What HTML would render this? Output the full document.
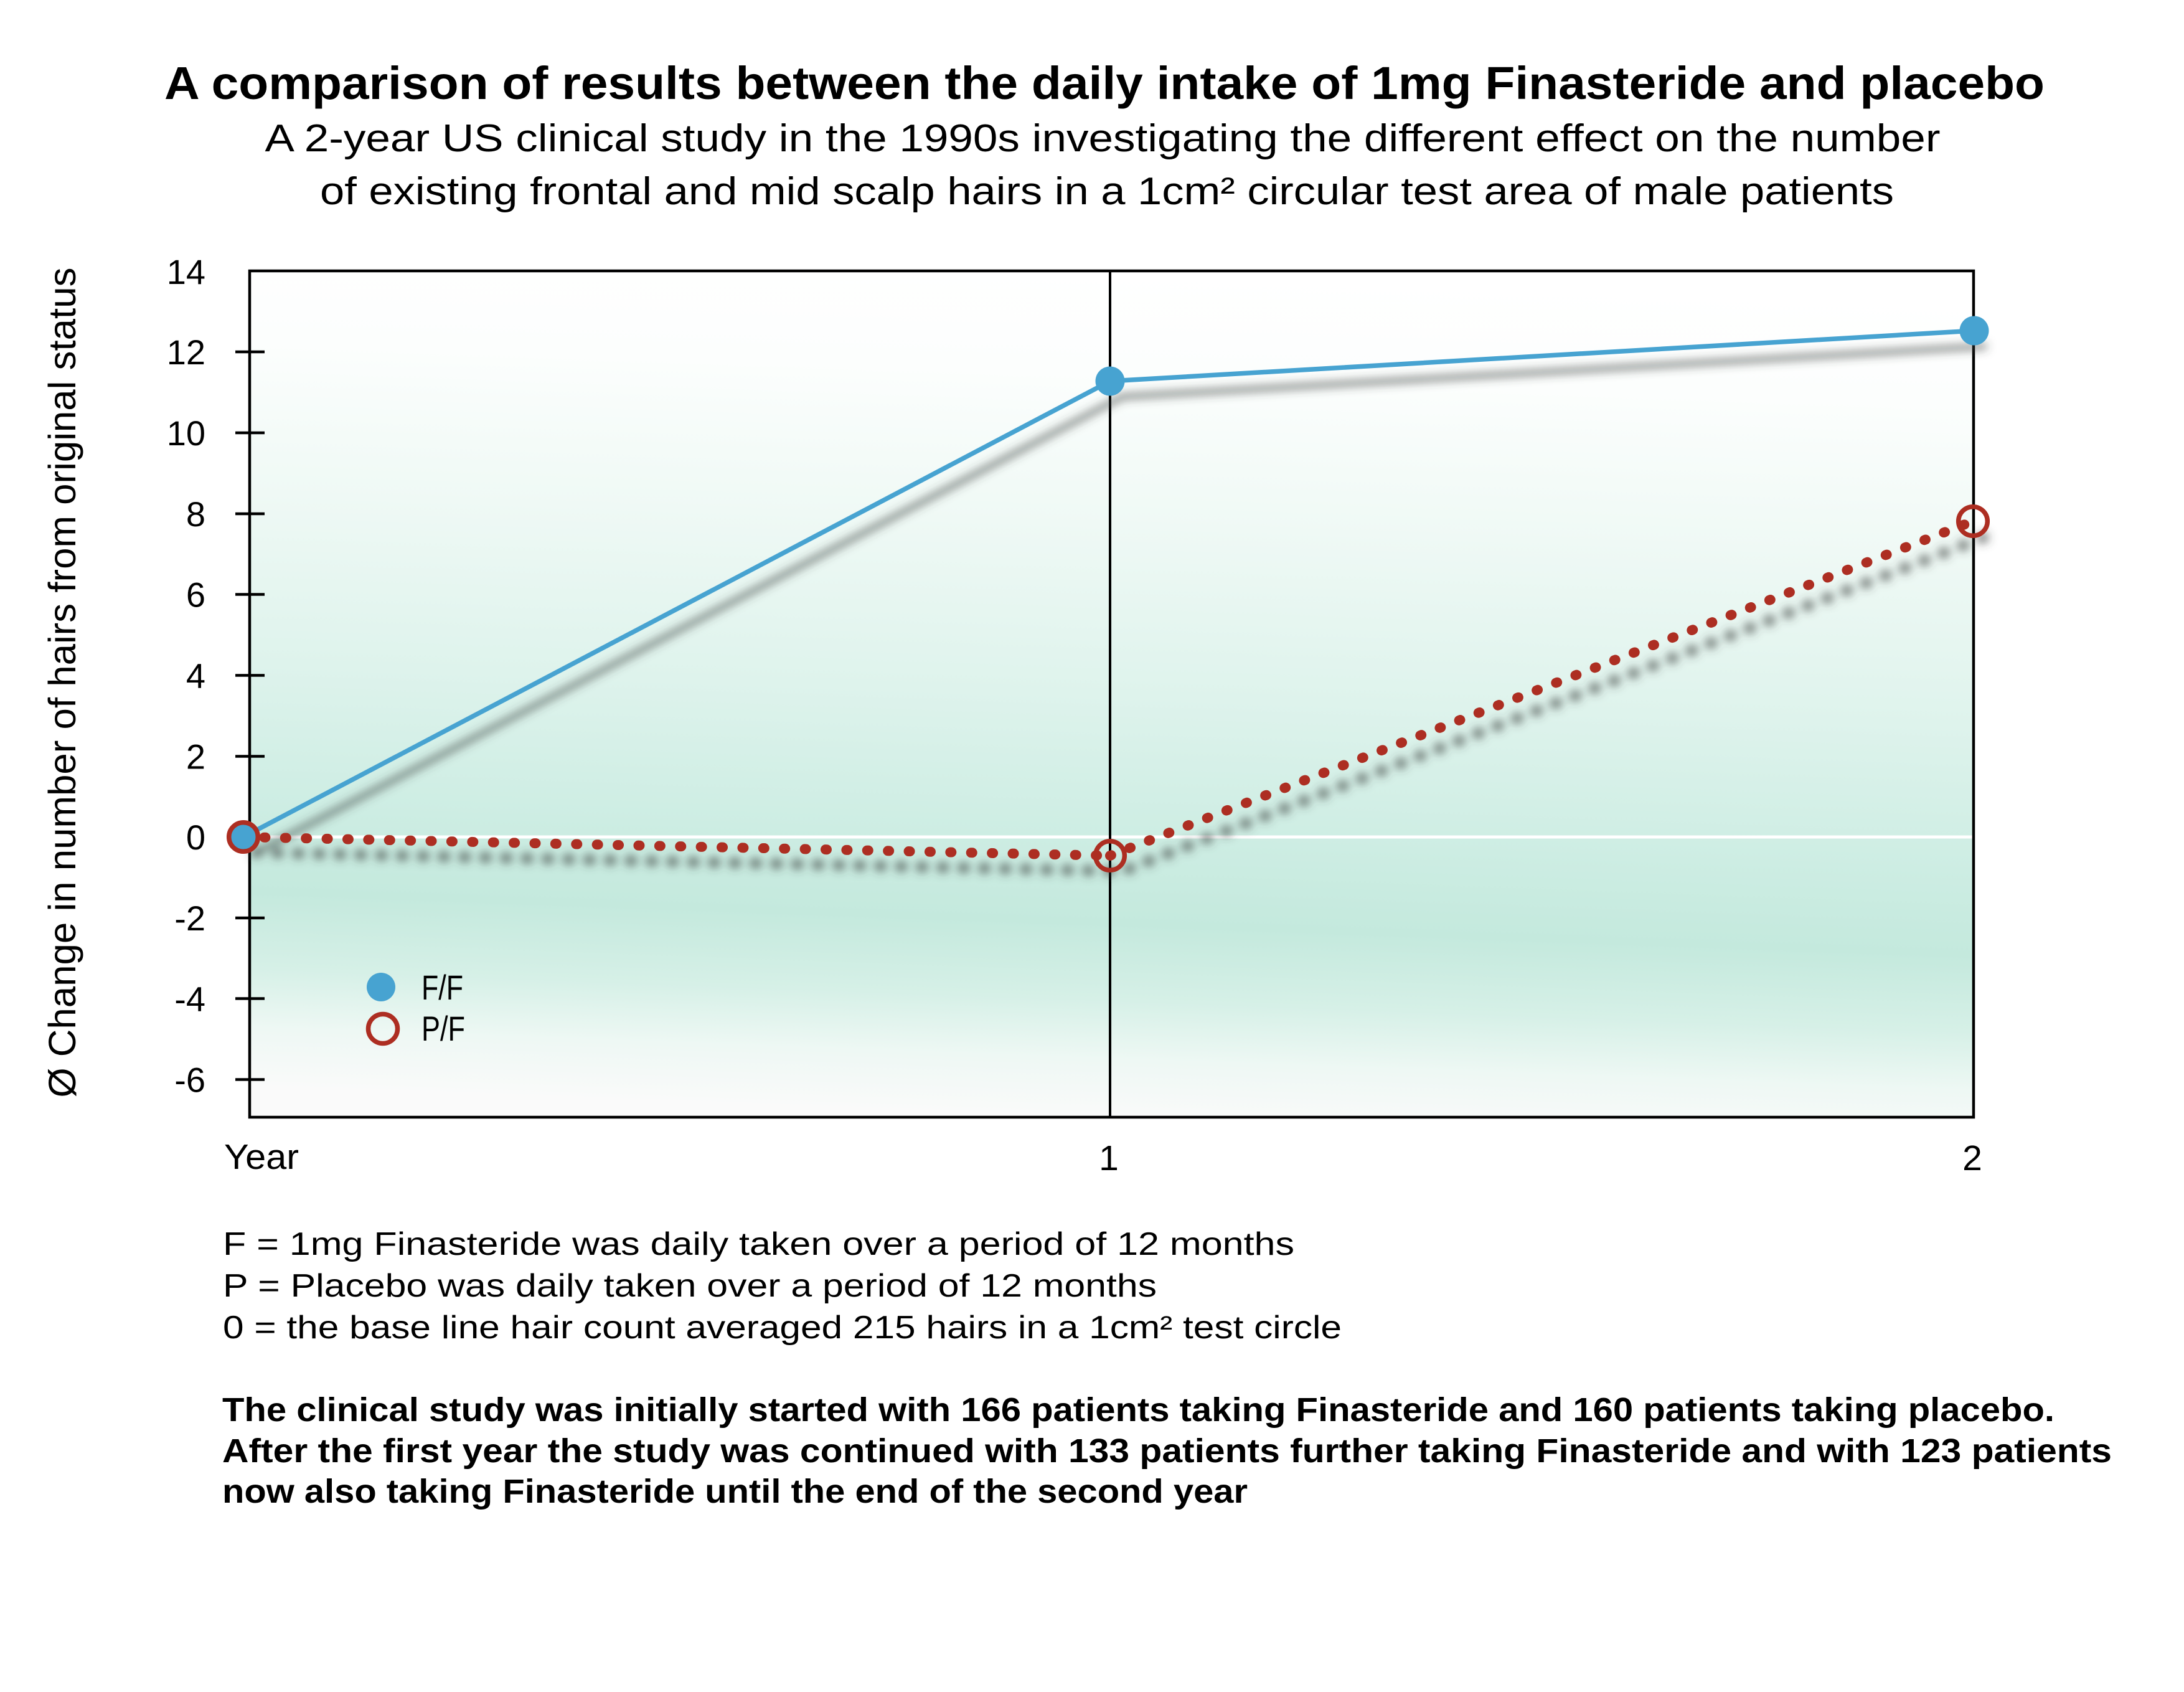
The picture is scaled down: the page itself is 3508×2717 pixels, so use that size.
<!DOCTYPE html>
<html>
<head>
<meta charset="utf-8">
<style>
  html, body { margin: 0; padding: 0; background: #ffffff; }
  svg { display: block; }
  text { font-family: "Liberation Sans", "DejaVu Sans", sans-serif; fill: #000; }
</style>
</head>
<body>
<svg width="3508" height="2717" viewBox="0 0 3508 2717" xmlns="http://www.w3.org/2000/svg">
  <defs>
    <linearGradient id="bg" gradientUnits="userSpaceOnUse" x1="1810" y1="435" x2="1760" y2="1796">
      <stop offset="0" stop-color="#ffffff"/>
      <stop offset="0.12" stop-color="#fcfefd"/>
      <stop offset="0.30" stop-color="#eff9f5"/>
      <stop offset="0.50" stop-color="#def3ec"/>
      <stop offset="0.67" stop-color="#cdede3"/>
      <stop offset="0.77" stop-color="#c4e9dd"/>
      <stop offset="0.86" stop-color="#d6f0e7"/>
      <stop offset="0.93" stop-color="#eef8f4"/>
      <stop offset="1" stop-color="#fafafa"/>
    </linearGradient>
    <filter id="sh" x="-10%" y="-20%" width="125%" height="160%">
      <feGaussianBlur in="SourceAlpha" stdDeviation="7.5" result="b"/>
      <feOffset in="b" dx="20" dy="25" result="o"/>
      <feFlood flood-color="#3a3f3d" flood-opacity="0.75"/>
      <feComposite in2="o" operator="in" result="s"/>
      <feMerge>
        <feMergeNode in="s"/>
      </feMerge>
    </filter>
  </defs>

  <!-- Title -->
  <text x="1774" y="159" text-anchor="middle" font-size="74" font-weight="bold" textLength="3020" lengthAdjust="spacingAndGlyphs">A comparison of results between the daily intake of 1mg Finasteride and placebo</text>
  <text x="1771" y="243" text-anchor="middle" font-size="62" textLength="2691" lengthAdjust="spacingAndGlyphs">A 2-year US clinical study in the 1990s investigating the different effect on the number</text>
  <text x="1778" y="328" text-anchor="middle" font-size="62" textLength="2528" lengthAdjust="spacingAndGlyphs">of existing frontal and mid scalp hairs in a 1cm² circular test area of male patients</text>

  <!-- Plot background -->
  <rect x="401" y="435" width="2769" height="1360" fill="url(#bg)"/>
  <!-- zero line -->
  <line x1="401" y1="1344" x2="3170" y2="1344" stroke="#ffffff" stroke-width="5"/>

  <!-- Axes -->
  <rect x="401" y="435" width="2769" height="1359" fill="none" stroke="#000" stroke-width="4.5"/>
  <line x1="1783" y1="435" x2="1783" y2="1794" stroke="#000" stroke-width="4"/>

  <!-- Y ticks -->
  <g stroke="#000" stroke-width="4.5">
    <line x1="378" y1="565" x2="425" y2="565"/>
    <line x1="378" y1="695" x2="425" y2="695"/>
    <line x1="378" y1="825" x2="425" y2="825"/>
    <line x1="378" y1="954.5" x2="425" y2="954.5"/>
    <line x1="378" y1="1084.5" x2="425" y2="1084.5"/>
    <line x1="378" y1="1214.5" x2="425" y2="1214.5"/>
    <line x1="378" y1="1344" x2="425" y2="1344"/>
    <line x1="378" y1="1474" x2="425" y2="1474"/>
    <line x1="378" y1="1603.5" x2="425" y2="1603.5"/>
    <line x1="378" y1="1733.5" x2="425" y2="1733.5"/>
  </g>

  <!-- Y tick labels -->
  <g font-size="56" text-anchor="end">
    <text x="330" y="456">14</text>
    <text x="330" y="585">12</text>
    <text x="330" y="715">10</text>
    <text x="330" y="845">8</text>
    <text x="330" y="974.5">6</text>
    <text x="330" y="1104.5">4</text>
    <text x="330" y="1234.5">2</text>
    <text x="330" y="1364">0</text>
    <text x="330" y="1494">-2</text>
    <text x="330" y="1623.5">-4</text>
    <text x="330" y="1753.5">-6</text>
  </g>

  <!-- Y axis title -->
  <text transform="translate(121,1096) rotate(-90)" text-anchor="middle" font-size="61" textLength="1333" lengthAdjust="spacingAndGlyphs">Ø Change in number of hairs from original status</text>

  <!-- X labels -->
  <text x="360" y="1877" font-size="57" textLength="120" lengthAdjust="spacingAndGlyphs">Year</text>
  <text x="1781" y="1879" font-size="57" text-anchor="middle">1</text>
  <text x="3168" y="1879" font-size="57" text-anchor="middle">2</text>

  <!-- Shadows (lines only) -->
  <g filter="url(#sh)">
    <polyline points="391,1344 1783,612 3171,531" fill="none" stroke="#000" stroke-width="8" stroke-linejoin="round"/>
    <path d="M 391 1344 L 1783 1374 L 3169 837" fill="none" stroke="#000" stroke-width="16" stroke-linecap="round" stroke-linejoin="round" stroke-dasharray="3 30.4"/>
  </g>

  <!-- Series -->
  <polyline points="391,1344 1783,612 3171,531" fill="none" stroke="#47a3d1" stroke-width="7.5" stroke-linejoin="round"/>
  <path d="M 391 1344 L 1783 1374" fill="none" stroke="#ad2e22" stroke-width="16" stroke-linecap="round" stroke-dasharray="2 31.4"/>
  <path d="M 1783 1374 L 3169 837" fill="none" stroke="#ad2e22" stroke-width="16" stroke-linecap="round" stroke-dasharray="2 31.4"/>
  <circle cx="1783" cy="612" r="23.5" fill="#47a3d1"/>
  <circle cx="3171" cy="531" r="23.5" fill="#47a3d1"/>
  <circle cx="391" cy="1344" r="22" fill="#47a3d1"/>
  <circle cx="391" cy="1344" r="23.3" fill="none" stroke="#ad2e22" stroke-width="7.5"/>
  <circle cx="1783" cy="1374" r="23.3" fill="none" stroke="#ad2e22" stroke-width="7.5"/>
  <circle cx="3169" cy="837" r="23.3" fill="none" stroke="#ad2e22" stroke-width="7.5"/>

  <!-- Legend -->
  <circle cx="612" cy="1585" r="23" fill="#47a3d1"/>
  <circle cx="615" cy="1652" r="23.5" fill="none" stroke="#ad2e22" stroke-width="7.5"/>
  <text x="677" y="1605" font-size="56" textLength="67" lengthAdjust="spacingAndGlyphs">F/F</text>
  <text x="677" y="1671" font-size="56" textLength="70" lengthAdjust="spacingAndGlyphs">P/F</text>

  <!-- Footnotes -->
  <g font-size="52">
    <text x="358" y="2015" textLength="1721" lengthAdjust="spacingAndGlyphs">F = 1mg Finasteride was daily taken over a period of 12 months</text>
    <text x="358" y="2082" textLength="1500" lengthAdjust="spacingAndGlyphs">P = Placebo was daily taken over a period of 12 months</text>
    <text x="358" y="2149" textLength="1797" lengthAdjust="spacingAndGlyphs">0 = the base line hair count averaged 215 hairs in a 1cm² test circle</text>
  </g>
  <g font-size="54" font-weight="bold">
    <text x="357" y="2282" textLength="2943" lengthAdjust="spacingAndGlyphs">The clinical study was initially started with 166 patients taking Finasteride and 160 patients taking placebo.</text>
    <text x="357" y="2348" textLength="3035" lengthAdjust="spacingAndGlyphs">After the first year the study was continued with 133 patients further taking Finasteride and with 123 patients</text>
    <text x="357" y="2413" textLength="1647" lengthAdjust="spacingAndGlyphs">now also taking Finasteride until the end of the second year</text>
  </g>
</svg>
</body>
</html>
